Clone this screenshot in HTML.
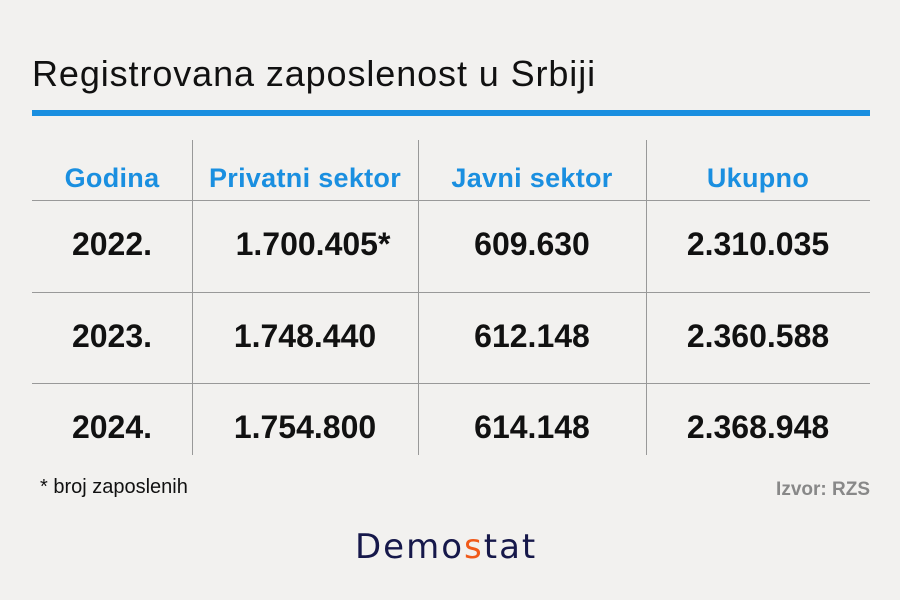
<!DOCTYPE html>
<html><head><meta charset="utf-8"><style>
body{margin:0;width:900px;height:600px;background:#f2f1ef;position:relative;overflow:hidden;font-family:"Liberation Sans",sans-serif}
.a{position:absolute}
.t{left:32px;top:53px;font-size:36px;color:#111;letter-spacing:0.9px}
.bar{left:32px;top:110px;width:838px;height:6px;background:#1a8fe0}
.h{top:163px;font-size:27px;font-weight:bold;color:#1a8fe0;text-align:center;letter-spacing:0.3px}
.v{font-size:32px;font-weight:bold;color:#111;text-align:center}
.hl{left:32px;width:838px;height:1px;background:#999}
.vl{top:140px;width:1px;height:315px;background:#999}
</style></head><body>
<div class="a t">Registrovana zaposlenost u Srbiji</div>
<div class="a bar"></div>
<div class="a vl" style="left:192px"></div>
<div class="a vl" style="left:418px"></div>
<div class="a vl" style="left:646px"></div>
<div class="a hl" style="top:200px"></div>
<div class="a hl" style="top:292px"></div>
<div class="a hl" style="top:383px"></div>
<div class="a h" style="left:32px;width:160px">Godina</div>
<div class="a h" style="left:192px;width:226px">Privatni sektor</div>
<div class="a h" style="left:418px;width:228px">Javni sektor</div>
<div class="a h" style="left:646px;width:224px">Ukupno</div>

<div class="a v" style="left:32px;width:160px;top:226px">2022.</div>
<div class="a v" style="left:200px;width:226px;top:226px">1.700.405*</div>
<div class="a v" style="left:418px;width:228px;top:226px">609.630</div>
<div class="a v" style="left:646px;width:224px;top:226px">2.310.035</div>

<div class="a v" style="left:32px;width:160px;top:318px">2023.</div>
<div class="a v" style="left:192px;width:226px;top:318px">1.748.440</div>
<div class="a v" style="left:418px;width:228px;top:318px">612.148</div>
<div class="a v" style="left:646px;width:224px;top:318px">2.360.588</div>

<div class="a v" style="left:32px;width:160px;top:409px">2024.</div>
<div class="a v" style="left:192px;width:226px;top:409px">1.754.800</div>
<div class="a v" style="left:418px;width:228px;top:409px">614.148</div>
<div class="a v" style="left:646px;width:224px;top:409px">2.368.948</div>

<div class="a" style="left:40px;top:476px;font-size:20px;color:#111">* broj zaposlenih</div>
<div class="a" style="right:30px;top:479px;font-size:19px;color:#888;font-weight:bold">Izvor: RZS</div>
<div class="a" style="left:355px;top:527px;font-size:34px;color:#16184a;letter-spacing:2px;font-family:'DejaVu Sans',sans-serif">Demo<span style="color:#f05a1a">s</span>tat</div>
</body></html>
